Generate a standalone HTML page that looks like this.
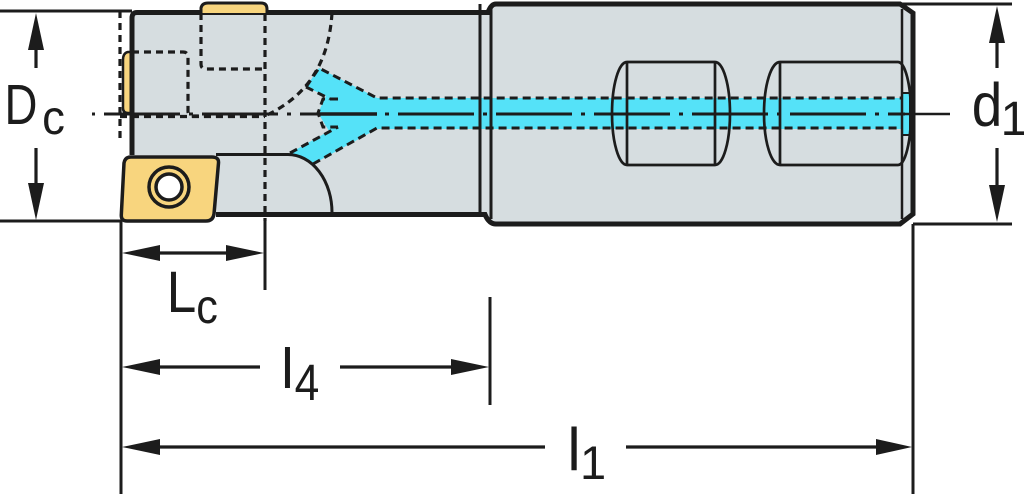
<!DOCTYPE html>
<html>
<head>
<meta charset="utf-8">
<style>
html,body{margin:0;padding:0;background:#fff;}
svg{display:block;}
text{font-family:"Liberation Sans",sans-serif;fill:#1c1c1c;}
</style>
</head>
<body>
<svg width="1024" height="494" viewBox="0 0 1024 494" xmlns="http://www.w3.org/2000/svg">
  <!-- body fill -->
  <path d="M132,12.5 H488 Q491,4 496,4 H900 L913,13 V214 L900,224 H496 Q489,224 485,214.5 H216 V155 H132 Z" fill="#d6dde0"/>

  <!-- hidden dashed lines -->
  <g fill="none" stroke="#1c1c1c" stroke-width="3.2" stroke-dasharray="7 5">
    <path d="M120,11 V142"/>
    <path d="M132,52 H183 Q188,52 188,57 V111 Q188,116 193,116 H265"/>
    <path d="M120,116.5 H265"/>
    <path d="M201,13 V64 Q201,69 206,69 H265"/>
    <path d="M265,14 V221"/>
    <path d="M332,13 C329,60 310,95 265,116"/>
  </g>

  <!-- coolant channel -->
  <polygon points="319,68 377,98 905,98 905,129 377,129 313,164 290,153 329,131 318,113 326,96 306,87" fill="#55e2f8"/>
  <g fill="none" stroke="#1c1c1c" stroke-width="3" stroke-dasharray="8 5">
    <path d="M306,87 L319,68 L377,98 H903"/>
    <path d="M313,164 L377,128 H903"/>
    <path d="M306,87 L330,99"/>
    <path d="M290,153 L338,127"/>
    <path d="M338,99 H323 L318,113 L323,127 H338"/>
  </g>
  <rect x="902" y="93" width="8" height="42" fill="#55e2f8" stroke="#1c1c1c" stroke-width="2"/>

  <!-- pin features -->
  <g fill="none" stroke="#1c1c1c" stroke-width="2.7">
    <path d="M627,62 H715 M627,165 H715 M627,62 V165 M715,62 V165"/>
    <path d="M627,62 A15,51.5 0 0 0 627,165"/>
    <path d="M715,62 A15,51.5 0 0 1 715,165"/>
    <path d="M780,62 H898 M780,165 H898 M780,62 V165"/>
    <path d="M780,62 A16,51.5 0 0 0 780,165"/>
    <path d="M898,62 A13,51.5 0 0 1 898,165"/>
  </g>

  <!-- body outlines -->
  <g fill="none" stroke="#1c1c1c">
    <path d="M132,155 V18 Q132,12.5 137,12.5 H488 Q491,4 496,4 H900 L913,13 V214 L900,224 H496 Q489,224 485,214.5 H216" stroke-width="5"/>
    <path d="M480,4 V215" stroke-width="3"/>
    <path d="M491,9 V219" stroke-width="3"/>
    <path d="M902,9 V219" stroke-width="2.5"/>
    <path d="M216,154.5 H288 A44,58 0 0 1 332,213" stroke-width="3"/>
  </g>

  <!-- inserts -->
  <path d="M131,157 H212 Q219,157 218.5,163 L214,214 Q213,221 206,221 H127 Q121,221 121.3,215 L124,163 Q125,157 131,157 Z" fill="#f8d57e" stroke="#1c1c1c" stroke-width="3.5"/>
  <circle cx="169" cy="187" r="20" fill="#f8d57e" stroke="#1c1c1c" stroke-width="3.5"/>
  <circle cx="169" cy="187" r="13" fill="#fff" stroke="#1c1c1c" stroke-width="3.5"/>
  <path d="M201,13 V8 Q202,3 208,3 H261 Q267,3 267,9 V13" fill="#f8d57e" stroke="#1c1c1c" stroke-width="3"/>
  <path d="M132,52 H128 Q123,53 123,60 V108 Q123,113 128,113 H132" fill="#f8d57e" stroke="#1c1c1c" stroke-width="2.5"/>
  <path d="M132,50 V116" stroke="#1c1c1c" stroke-width="5"/>

  <!-- centerline -->
  <path d="M92,114 H905" fill="none" stroke="#1c1c1c" stroke-width="3" stroke-dasharray="76 9 4 9" stroke-dashoffset="86"/>
  <path d="M318,114 H377" stroke="#1c1c1c" stroke-width="3.5"/>
  <path d="M905,114 H950" stroke="#1c1c1c" stroke-width="2.5"/>

  <!-- extension lines -->
  <g stroke="#1c1c1c" stroke-width="3" fill="none">
    <path d="M0,11 H132"/>
    <path d="M0,221 H122"/>
    <path d="M900,4 H1012"/>
    <path d="M913,224 H1012"/>
    <path d="M121,221 V494"/>
    <path d="M265,221 V290"/>
    <path d="M490,297 V405"/>
    <path d="M913,224 V494"/>
  </g>

  <!-- dimension lines -->
  <g stroke="#1c1c1c" stroke-width="3.2" fill="none">
    <path d="M36,48 V68"/>
    <path d="M36,148 V184"/>
    <path d="M997,42 V68"/>
    <path d="M997,148 V186"/>
    <path d="M158,253 H229"/>
    <path d="M158,367 H260"/>
    <path d="M340,367 H452"/>
    <path d="M158,447 H545"/>
    <path d="M626,447 H878"/>
  </g>
  <g fill="#1c1c1c">
    <polygon points="36,13 28,50 44,50"/>
    <polygon points="36,220 28,183 44,183"/>
    <polygon points="997,6 989,43 1005,43"/>
    <polygon points="997,222 989,185 1005,185"/>
    <polygon points="122,253 160,245 160,261"/>
    <polygon points="264,253 226,245 226,261"/>
    <polygon points="122,367 160,359 160,375"/>
    <polygon points="489,367 451,359 451,375"/>
    <polygon points="122,447 160,439 160,455"/>
    <polygon points="912,447 876,439 876,455"/>
  </g>

  <!-- labels -->
  <text font-size="57" text-anchor="middle" transform="translate(21,124) scale(0.8,1)">D</text>
  <text font-size="48" text-anchor="middle" transform="translate(53.5,134) scale(0.95,1)">c</text>

  <text font-size="61" text-anchor="middle" transform="translate(987,126) scale(0.9,1)">d</text>
  <text font-size="48" text-anchor="middle" transform="translate(1014,135)">1</text>

  <text font-size="58" text-anchor="middle" transform="translate(181.5,312) scale(0.92,1)">L</text>
  <text font-size="48" text-anchor="middle" transform="translate(207,323) scale(0.9,1)">c</text>

  <text font-size="57" text-anchor="middle" transform="translate(287.5,388)">l</text>
  <text font-size="51" text-anchor="middle" transform="translate(307,400) scale(0.87,1)">4</text>

  <text font-size="60" text-anchor="middle" transform="translate(574,470)">l</text>
  <text font-size="47" text-anchor="middle" transform="translate(593,479)">1</text>
</svg>
</body>
</html>
